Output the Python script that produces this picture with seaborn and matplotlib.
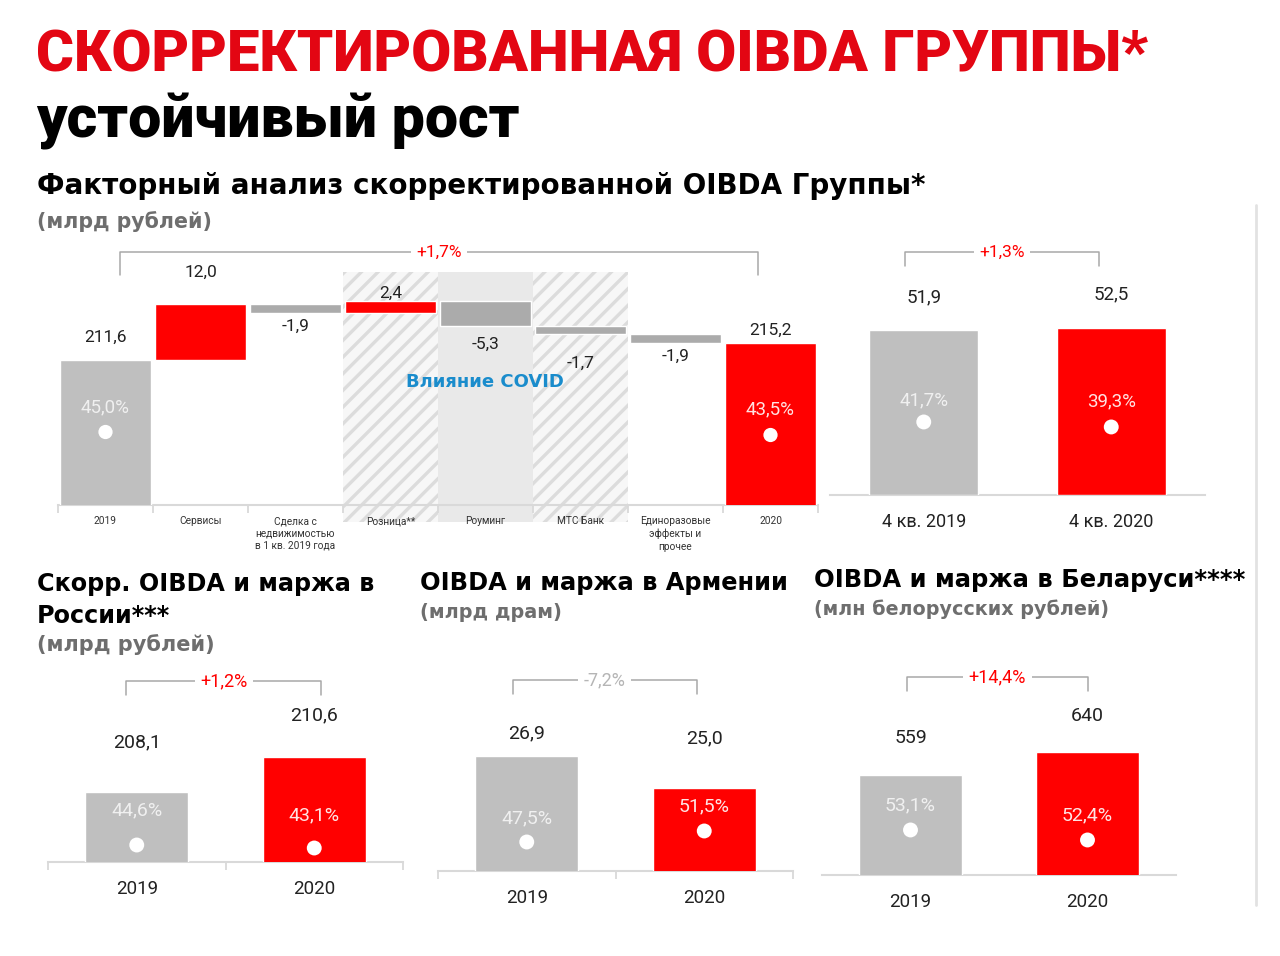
import numpy as np
import pandas as pd
import matplotlib.pyplot as plt
import seaborn as sns
from matplotlib.patches import Rectangle
from matplotlib.lines import Line2D
from matplotlib.transforms import blended_transform_factory

# --- data ---
wf_cats = ["2019", "Сервисы", "Сделка с\nнедвижимостью\nв 1 кв. 2019 года", "Розница**",
           "Роуминг", "МТС Банк", "Единоразовые\nэффекты и\nпрочее", "2020"]
wf_values = [211.6, 12.0, -1.9, 2.4, -5.3, -1.7, -1.9, 215.2]
wf_margin = [45.0, 43.5]
wf_growth = "+1,7%"

q4_cats = ["4 кв. 2019", "4 кв. 2020"]
q4_values = [51.9, 52.5]
q4_margin = [41.7, 39.3]
q4_growth = "+1,3%"

years = ["2019", "2020"]
ru_values = [208.1, 210.6]
ru_margin = [44.6, 43.1]
ru_growth = "+1,2%"

am_values = [26.9, 25.0]
am_margin = [47.5, 51.5]
am_growth = "-7,2%"

by_values = [559, 640]
by_margin = [53.1, 52.4]
by_growth = "+14,4%"

RED = "#ff0000"
GRAY = "#bfbfbf"
DGRAY = "#ababab"
TITLE_RED = "#e30613"
LINE = "#d9d9d9"
TXT = "#222222"
WIDE = ["DejaVu Sans"]

sns.set_theme(style="white")
plt.rcParams["font.family"] = ["Roboto", "DejaVu Sans"]
plt.rcParams["hatch.linewidth"] = 2.4

W, H = 1280, 956
fig = plt.figure(figsize=(12.8, 9.56), dpi=100)


def add_ax(x0, top, x1, bottom):
    return fig.add_axes([x0 / W, 1 - bottom / H, (x1 - x0) / W, (bottom - top) / H])


def ftext(x, y, s, **kw):
    fig.text(x / W, 1 - y / H, s, **kw)


def fmt(v, dec=1):
    return f"{v:.{dec}f}".replace(".", ",")


def style_axis(ax, n, minor_ticks):
    for s in ["top", "right", "left"]:
        ax.spines[s].set_visible(False)
    ax.spines["bottom"].set_color(LINE)
    ax.spines["bottom"].set_linewidth(1.5)
    ax.set_yticks([])
    ax.set_xlim(-0.5, n - 0.5)
    ax.set_xlabel("")
    ax.set_ylabel("")
    ax.tick_params(axis="x", which="major", length=0)
    if minor_ticks:
        ax.set_xticks(np.arange(-0.5, n), minor=True)
        ax.tick_params(axis="x", which="minor", length=6, width=1.3, color=LINE, bottom=True)


def bracket(ax, x0, x1, text, color, leg_px, size=12.5):
    tr = blended_transform_factory(ax.transData, ax.transAxes)
    f = leg_px / ax.bbox.height
    ax.plot([x0, x0, x1, x1], [1 - f, 1, 1, 1 - f], transform=tr, color="#a8a8a8",
            lw=1.1, clip_on=False)
    ax.text((x0 + x1) / 2, 1, text, transform=tr, ha="center", va="center", color=color,
            fontsize=size, bbox=dict(fc="white", ec="none", pad=4))


def margin_dots(ax, xs, margins, ylim, offsets, colors, size, dot_s):
    ax2 = ax.twinx()
    sns.scatterplot(x=xs, y=margins, ax=ax2, color="white", s=dot_s, edgecolor="none", zorder=5)
    ax2.set_ylim(*ylim)
    ax2.set_yticks([])
    ax2.set_ylabel("")
    for s in ax2.spines.values():
        s.set_visible(False)
    for xi, m, off, c in zip(xs, margins, offsets, colors):
        ax2.annotate(f"{fmt(m)}%", (xi, m), xytext=(0, off * 0.72), textcoords="offset points",
                     ha="center", va="center", color=c, fontsize=size)
    return ax2


def pair_panel(box, labels, values, margins, growth, gcolor, ylim, mlim, val_off, m_off,
               br_x, dec=1, size=14, minor_ticks=True, label_pad=13):
    ax = add_ax(*box)
    df = pd.DataFrame({"period": labels, "value": values})
    sns.barplot(data=df, x="period", y="value", hue="period", palette=[GRAY, RED],
                width=0.58, saturation=1, legend=False, ax=ax, zorder=3)
    ax.set_ylim(*ylim)
    style_axis(ax, 2, minor_ticks)
    ax.tick_params(axis="x", which="major", labelsize=size - 0.5, pad=label_pad,
                   labelcolor=TXT)
    for i, (v, off) in enumerate(zip(values, val_off)):
        ax.annotate(fmt(v, dec), (i, v), xytext=(0, off * 0.72), textcoords="offset points",
                    ha="center", va="center", color=TXT, fontsize=size)
    margin_dots(ax, [0, 1], margins, mlim, m_off, ["#f0f0f0", "#ffe3e3"], size, 115)
    bracket(ax, br_x[0], br_x[1], growth, gcolor, 14, size=size - 1)
    return ax


# --- headings ---
ftext(36, 72, "СКОРРЕКТИРОВАННАЯ OIBDA ГРУППЫ*", color=TITLE_RED, fontsize=41.7,
      fontweight="black", va="baseline")
ftext(36, 138, "устойчивый рост", color="black", fontsize=42.5, fontweight="black",
      va="baseline")
ftext(37, 194, "Факторный анализ скорректированной OIBDA Группы*", color="black",
      fontsize=20, fontweight="bold", va="baseline", family=WIDE)
ftext(37, 228, "(млрд рублей)", color="#6e6e6e", fontsize=14.8, fontweight="bold",
      va="baseline", family=WIDE)

ftext(37, 591, "Скорр. OIBDA и маржа в", color="black", fontsize=17.2, fontweight="bold",
      va="baseline", family=WIDE)
ftext(37, 623, "России***", color="black", fontsize=17.2, fontweight="bold",
      va="baseline", family=WIDE)
ftext(37, 651, "(млрд рублей)", color="#6e6e6e", fontsize=15, fontweight="bold",
      va="baseline", family=WIDE)
ftext(420, 590, "OIBDA и маржа в Армении", color="black", fontsize=17.4, fontweight="bold",
      va="baseline", family=WIDE)
ftext(420, 618, "(млрд драм)", color="#6e6e6e", fontsize=13.9, fontweight="bold",
      va="baseline", family=WIDE)
ftext(814, 587, "OIBDA и маржа в Беларуси****", color="black", fontsize=17.5,
      fontweight="bold", va="baseline", family=WIDE)
ftext(814, 615, "(млн белорусских рублей)", color="#6e6e6e", fontsize=13.8,
      fontweight="bold", va="baseline", family=WIDE)

# --- waterfall ---
ax = add_ax(58, 252, 818, 505)
n = len(wf_values)
xs = np.arange(n)
bottoms, heights, colors, tops, lows = [], [], [], [], []
level = 0.0
for i, v in enumerate(wf_values):
    if i == 0 or i == n - 1:
        bottoms.append(0.0)
        level = v
        colors.append(GRAY if i == 0 else RED)
    else:
        bottoms.append(level)
        level += v
        colors.append(RED if v > 0 else DGRAY)
    heights.append(v)
    tops.append(max(bottoms[-1], bottoms[-1] + v))
    lows.append(min(bottoms[-1], bottoms[-1] + v))

ax.bar(xs, heights, bottom=bottoms, width=0.96, color=colors, zorder=3)
ax.set_ylim(180.6, 234.66)
style_axis(ax, n, True)
ax.set_xticks(xs)
ax.set_xticklabels(wf_cats, fontsize=7.3, color="#333333", linespacing=1.3,
                   family=["Liberation Sans Narrow", "Roboto", "DejaVu Sans"])
ax.tick_params(axis="x", which="major", pad=8)

# COVID zone
zone_lo, zone_hi = 176.97, 230.4
for x0, hatched in [(2.5, True), (3.5, False), (4.5, True)]:
    ax.add_patch(Rectangle((x0, zone_lo), 1, zone_hi - zone_lo,
                           facecolor="#f7f7f7" if hatched else "#e9e9e9",
                           edgecolor="#dcdcdc", hatch="//" if hatched else None,
                           lw=0, zorder=0, clip_on=False))
ftext(485, 387, "Влияние COVID", color="#1a8ccc", fontsize=13, fontweight="bold",
      ha="center", va="baseline", family=WIDE)

wf_off = [23, 31, -14, 8, -18, -29, -13, 13]
for i, (v, off) in enumerate(zip(wf_values, wf_off)):
    anchor = tops[i] if off > 0 else lows[i]
    ax.annotate(fmt(v), (i, anchor), xytext=(0, off * 0.72), textcoords="offset points",
                ha="center", va="center", color=TXT, fontsize=12.5)
margin_dots(ax, [0, n - 1], wf_margin, (8.5, 135), [25, 26], ["#f0f0f0", "#ffe3e3"], 13.5, 105)
bracket(ax, 0.15, 6.87, wf_growth, RED, 23)

# --- Q4 ---
pair_panel((830, 252, 1205, 495), q4_cats, q4_values, q4_margin, q4_growth, RED,
           (0, 76.4), (6.6, 123.4), [33, 34], [22, 26], (-0.1, 0.935),
           size=13.5, minor_ticks=False, label_pad=13)

# --- bottom panels ---
pair_panel((48, 681, 403, 862), years, ru_values, ru_margin, ru_growth, RED,
           (203.1, 216.03), (36.1, 126.6), [50, 42], [35, 33], (-0.06, 1.04))
pair_panel((438, 680, 793, 871), years, am_values, am_margin, am_growth, "#b5b5b5",
           (20.05, 31.42), (36.95, 106.4), [23, 49], [24, 25], (-0.08, 0.96))
pair_panel((822, 677, 1176, 875), years, by_values, by_margin, by_growth, RED,
           (207, 904), (49.95, 63.8), [37, 36], [25, 25], (-0.02, 1.0), dec=0,
           minor_ticks=False)

fig.add_artist(Line2D([1256 / W] * 2, [1 - 205 / H, 1 - 905 / H], color="#e2e2e2", lw=2))

fig.savefig("out.png", dpi=100, facecolor="white")
